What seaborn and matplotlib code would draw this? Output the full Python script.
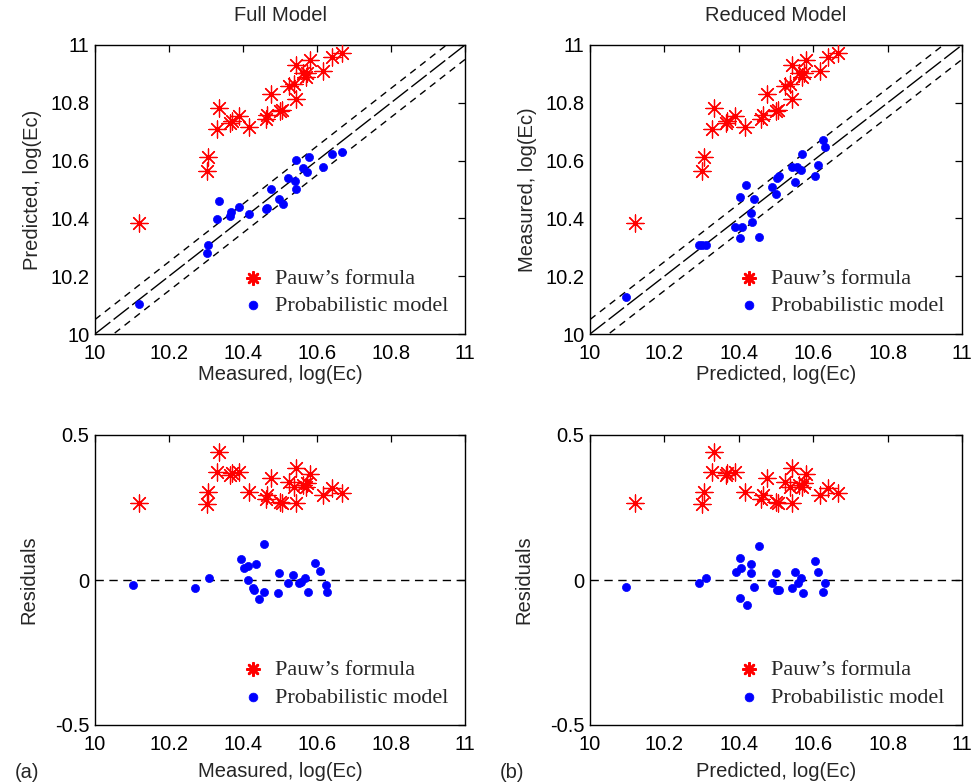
import matplotlib
matplotlib.use("Agg")
import matplotlib.pyplot as plt
import seaborn as sns
import numpy as np

# ---- data -------------------------------------------------------------
# Pauw's formula: measured vs predicted (identical in both models)
pauw_measured = [10.120, 10.302, 10.306, 10.329, 10.334, 10.365, 10.369, 10.389,
                 10.417, 10.461, 10.464, 10.475, 10.500, 10.505, 10.523, 10.538,
                 10.544, 10.544, 10.563, 10.570, 10.574, 10.580, 10.617, 10.641,
                 10.668]
pauw_predicted = [10.385, 10.565, 10.614, 10.708, 10.782, 10.729, 10.738, 10.754,
                  10.717, 10.743, 10.758, 10.830, 10.772, 10.775, 10.858, 10.865,
                  10.812, 10.931, 10.902, 10.890, 10.904, 10.948, 10.911, 10.957,
                  10.971]
pauw_residual = [0.264, 0.262, 0.305, 0.374, 0.443, 0.362, 0.368, 0.371,
                 0.305, 0.278, 0.293, 0.351, 0.270, 0.264, 0.339, 0.322,
                 0.267, 0.385, 0.328, 0.322, 0.336, 0.364, 0.293, 0.316,
                 0.299]

# Full model: measured (x) vs predicted (y)
full_measured = [10.120, 10.302, 10.306, 10.329, 10.334, 10.365, 10.367, 10.389,
                 10.417, 10.461, 10.466, 10.476, 10.498, 10.507, 10.521, 10.540,
                 10.544, 10.544, 10.561, 10.572, 10.579, 10.617, 10.641, 10.668]
full_predicted = [10.104, 10.281, 10.308, 10.397, 10.460, 10.409, 10.422, 10.438,
                  10.414, 10.431, 10.435, 10.502, 10.467, 10.450, 10.539, 10.531,
                  10.502, 10.602, 10.576, 10.562, 10.612, 10.579, 10.624, 10.631]
full_res_x = [10.102, 10.271, 10.307, 10.395, 10.403, 10.413, 10.413, 10.426,
              10.430, 10.434, 10.443, 10.457, 10.457, 10.495, 10.498, 10.522,
              10.534, 10.552, 10.557, 10.568, 10.577, 10.595, 10.608, 10.623,
              10.628]
full_residual = [-0.017, -0.029, 0.006, 0.071, 0.043, 0.048, 0.000, -0.029,
                 -0.036, 0.054, -0.064, 0.123, -0.040, -0.046, 0.025, -0.011,
                 0.017, -0.011, -0.008, 0.008, -0.040, 0.060, 0.031, -0.017,
                 -0.040]

# Reduced model: predicted (x) vs measured (y)
red_predicted = [10.097, 10.293, 10.302, 10.313, 10.390, 10.402, 10.403, 10.408,
                 10.420, 10.434, 10.435, 10.440, 10.453, 10.489, 10.499, 10.503,
                 10.508, 10.542, 10.550, 10.557, 10.568, 10.571, 10.604, 10.614,
                 10.625, 10.632]
red_measured = [10.127, 10.308, 10.308, 10.308, 10.371, 10.473, 10.331, 10.371,
                10.514, 10.420, 10.389, 10.466, 10.337, 10.507, 10.484, 10.541,
                10.548, 10.578, 10.525, 10.579, 10.567, 10.623, 10.548, 10.585,
                10.670, 10.646]
red_res_x = [10.097, 10.293, 10.312, 10.392, 10.402, 10.402, 10.407, 10.421,
             10.434, 10.434, 10.440, 10.453, 10.489, 10.499, 10.503, 10.509,
             10.543, 10.550, 10.559, 10.568, 10.572, 10.604, 10.614, 10.626,
             10.631]
red_residual = [-0.023, -0.011, 0.007, 0.029, 0.077, -0.063, 0.043, -0.086,
                0.054, 0.023, -0.023, 0.117, -0.011, 0.023, -0.034, -0.034,
                -0.029, 0.029, -0.011, 0.008, -0.046, 0.066, 0.029, -0.040,
                -0.011]

identity = [10.0, 11.0]
band = 0.05
xticks = [10, 10.2, 10.4, 10.6, 10.8, 11]
xtick_labels = ["10", "10.2", "10.4", "10.6", "10.8", "11"]
res_ticks = [-0.5, 0, 0.5]
res_tick_labels = ["-0.5", "0", "0.5"]

# ---- style ------------------------------------------------------------
sns.set_theme(style="white")
plt.rcParams["font.family"] = ["Liberation Sans", "DejaVu Sans"]

TICK_FS = 14.5
LEG_FONT = {"family": "Liberation Serif", "size": 16}
STAR = (8, 2, 0)

fig = plt.figure(figsize=(9.72, 7.84), dpi=100)
W, H = 972, 784


def add_axes(left, top, right, bottom):
    return fig.add_axes([left / W, 1 - bottom / H, (right - left) / W, (bottom - top) / H])


ax_tl = add_axes(95, 45, 465, 334)
ax_tr = add_axes(590, 45, 962, 334)
ax_bl = add_axes(95, 435, 465, 725)
ax_br = add_axes(590, 435, 962, 725)


def style_axes(ax):
    ax.set_xlim(10, 11)
    ax.set_xticks(xticks)
    ax.set_xticklabels(xtick_labels)
    for s in ax.spines.values():
        s.set_visible(True)
        s.set_color("black")
        s.set_linewidth(1.0)
    ax.tick_params(direction="in", length=5, width=0.9, top=True, right=True,
                   labelsize=TICK_FS, colors="black")
    ax.tick_params(axis="x", pad=7)
    ax.tick_params(axis="y", pad=4)


def scatter_pair(ax, xr, yr, xb, yb):
    sns.scatterplot(x=xr, y=yr, ax=ax, color="red", marker=STAR, s=150,
                    linewidth=0.9, label="Pauw\u2019s formula", zorder=3)
    sns.scatterplot(x=xb, y=yb, ax=ax, color="blue", marker="o", s=34,
                    edgecolor="blue", linewidth=0.5, label="Probabilistic model",
                    zorder=3)


def legend(ax, x, y):
    leg = ax.legend(loc="lower left", bbox_to_anchor=(x, y), frameon=False,
                    prop=LEG_FONT, handletextpad=0.0, labelspacing=0.3,
                    borderpad=0.2, borderaxespad=0.0)
    for h in leg.legend_handles:
        if h.get_label().startswith("Pauw"):
            h.set_sizes([80])
            h.set_linewidth(1.9)
        else:
            h.set_sizes([40])


def top_panel(ax, xr, yr, xb, yb, xlabel, ylabel, title):
    ref = np.array(identity)
    ax.plot(ref, ref, color="black", lw=1.0, dashes=(14, 3), zorder=2)
    ax.plot(ref, ref + band, color="black", lw=1.0, dashes=(5, 4), zorder=2)
    ax.plot(ref, ref - band, color="black", lw=1.0, dashes=(5, 4), zorder=2)
    scatter_pair(ax, xr, yr, xb, yb)
    style_axes(ax)
    ax.set_ylim(10, 11)
    ax.set_yticks(xticks)
    ax.set_yticklabels(xtick_labels)
    ax.set_xlabel(xlabel, fontsize=TICK_FS, labelpad=2)
    ax.set_ylabel(ylabel, fontsize=TICK_FS, labelpad=6)
    ax.set_title(title, fontsize=TICK_FS, pad=17)
    legend(ax, 0.355, 0.047)


def bottom_panel(ax, xr, yr, xb, yb, xlabel):
    ax.axhline(0, color="black", lw=1.0, dashes=(6, 4), zorder=2)
    scatter_pair(ax, xr, yr, xb, yb)
    style_axes(ax)
    ax.set_ylim(-0.5, 0.5)
    ax.set_yticks(res_ticks)
    ax.set_yticklabels(res_tick_labels)
    ax.set_xlabel(xlabel, fontsize=TICK_FS, labelpad=6)
    ax.set_ylabel("Residuals", fontsize=TICK_FS, labelpad=12)
    legend(ax, 0.355, 0.045)


top_panel(ax_tl, pauw_measured, pauw_predicted, full_measured, full_predicted,
          "Measured, log(Ec)", "Predicted, log(Ec)", "Full Model")
top_panel(ax_tr, pauw_measured, pauw_predicted, red_predicted, red_measured,
          "Predicted, log(Ec)", "Measured, log(Ec)", "Reduced Model")
bottom_panel(ax_bl, pauw_measured, pauw_residual, full_res_x, full_residual,
             "Measured, log(Ec)")
bottom_panel(ax_br, pauw_measured, pauw_residual, red_res_x, red_residual,
             "Predicted, log(Ec)")

fig.text(15 / W, 1 - 773 / H, "(a)", fontsize=TICK_FS, ha="left", va="center")
fig.text(500 / W, 1 - 773 / H, "(b)", fontsize=TICK_FS, ha="left", va="center")

fig.savefig("out.png", dpi=100, facecolor="white")
